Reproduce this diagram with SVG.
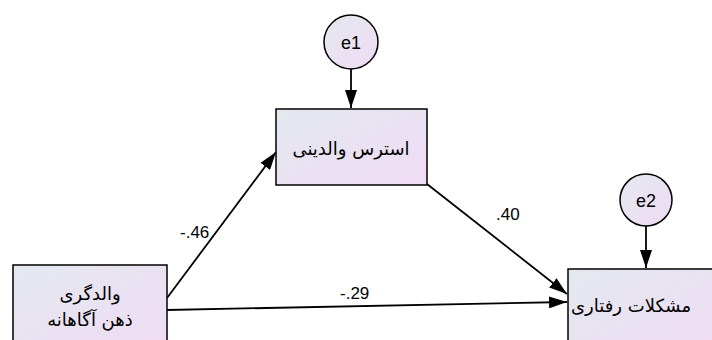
<svg xmlns="http://www.w3.org/2000/svg" width="712" height="340" viewBox="0 0 712 340">
<defs>
<linearGradient id="g" x1="0" y1="0" x2="1" y2="1">
<stop offset="0" stop-color="#e3e9ef"/>
<stop offset="1" stop-color="#f0dbf4"/>
</linearGradient>
<marker id="ah" markerWidth="18" markerHeight="12" refX="18" refY="6" orient="auto" markerUnits="userSpaceOnUse">
<path d="M0,0 L18,6 L0,12 Z" fill="#000"/>
</marker>
<style>
.box{fill:url(#g);stroke:#000;stroke-width:1.5}
.t{font-family:"DejaVu Sans","Liberation Sans",sans-serif;font-size:18px;fill:#000}
.c{stroke:#000;stroke-width:1.8;fill:none;marker-end:url(#ah)}
.lab{font-family:"Liberation Sans",Arial,sans-serif;font-size:17px;fill:#000}
.el{font-family:"Liberation Sans",Arial,sans-serif;font-size:18px;fill:#000;text-anchor:middle}
</style>
</defs>
<rect width="712" height="340" fill="#fff"/>
<g id="connectors">
<line class="c" x1="351" y1="69" x2="351" y2="108"/>
<line class="c" x1="646" y1="226" x2="646" y2="268"/>
<line class="c" x1="167" y1="298" x2="276" y2="152"/>
<line class="c" x1="167" y1="310" x2="567" y2="302"/>
<line class="c" x1="427" y1="184" x2="567" y2="294"/>
<text class="lab" x="180" y="238">-.46</text>
<text class="lab" x="340" y="299">-.29</text>
<text class="lab" x="496" y="220">.40</text>
</g>
<g id="e1">
<circle class="box" cx="351" cy="42" r="27"/>
<text class="el" x="351" y="49">e1</text>
</g>
<g id="e2">
<circle class="box" cx="646" cy="200" r="26"/>
<text class="el" x="646" y="207">e2</text>
</g>
<g id="stress">
<rect class="box" x="276" y="109" width="151" height="76"/>
<text class="t" x="351" y="155" text-anchor="middle" direction="rtl">استرس والدینی</text>
</g>
<g id="mindful">
<rect class="box" x="13" y="265" width="154" height="90"/>
<text class="t" x="90" y="300" text-anchor="middle" direction="rtl">والدگری</text>
<text class="t" x="90" y="326" text-anchor="middle" direction="rtl">ذهن آگاهانه</text>
</g>
<g id="behavior">
<rect class="box" x="568" y="269" width="160" height="90"/>
<text class="t" x="571" y="312" direction="rtl" text-anchor="end">مشکلات رفتاری</text>
</g>
</svg>
